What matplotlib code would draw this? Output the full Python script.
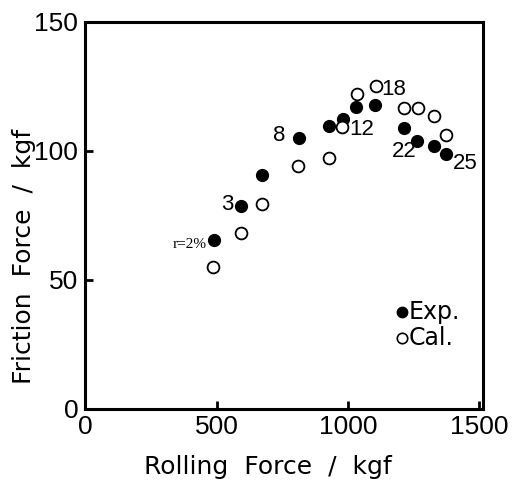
import matplotlib
matplotlib.use("Agg")
import matplotlib.pyplot as plt

# measured (Exp.) and calculated (Cal.) friction force vs rolling force
exp_x = [489, 591, 671, 812, 927, 979, 1030, 1104, 1214, 1263, 1328, 1371]
exp_y = [65.5, 78.7, 90.6, 105.0, 109.7, 112.3, 117.0, 117.8, 108.8, 104.0, 102.0, 98.7]
cal_x = [487, 592, 671, 810, 928, 978, 1035, 1105, 1213, 1265, 1328, 1371]
cal_y = [55.0, 68.3, 79.5, 94.3, 97.2, 109.3, 122.0, 125.0, 116.5, 116.5, 113.6, 106.3]

# reduction labels: (text, which series, index, offset in points, ha)
reduction_labels = [
    ("r=2%", "exp", 0, (-5, -3.5), "right"),
    ("3", "exp", 1, (-5, 1), "right"),
    ("8", "exp", 3, (-14, 1.5), "center"),
    ("12", "cal", 5, (5, -2), "left"),
    ("18", "cal", 7, (4, -2.5), "left"),
    ("22", "exp", 8, (0, -17), "center"),
    ("25", "exp", 11, (14, -6.5), "center"),
]

NUMFONT = "Liberation Sans"

fig = plt.figure(figsize=(5.17, 4.82), dpi=100)
ax = fig.add_axes([0.165, 0.1515, 0.769, 0.803])

ax.plot(exp_x, exp_y, "o", ms=8.5, color="black", mec="black")
ax.plot(cal_x, cal_y, "o", ms=8.5, mfc="white", mec="black", mew=1.3)

for text, series, i, off, ha in reduction_labels:
    x, y = (exp_x[i], exp_y[i]) if series == "exp" else (cal_x[i], cal_y[i])
    if text.startswith("r"):
        ax.annotate(text, (x, y), xytext=off, textcoords="offset points",
                    ha=ha, va="center", fontsize=11, family="Liberation Serif")
    else:
        ax.annotate(text, (x, y), xytext=off, textcoords="offset points",
                    ha=ha, va="center", fontsize=16, family=NUMFONT)

# hand-placed legend
ax.plot([0.797], [0.251], "o", ms=7.5, color="black", transform=ax.transAxes)
ax.plot([0.797], [0.184], "o", ms=7.5, mfc="white", mec="black", mew=1.2,
        transform=ax.transAxes)
ax.text(0.812, 0.251, "Exp.", transform=ax.transAxes, va="center", fontsize=17)
ax.text(0.812, 0.184, "Cal.", transform=ax.transAxes, va="center", fontsize=17)

ax.set_xlim(0, 1513)
ax.set_ylim(0, 150)
ax.set_xticks([0, 500, 1000, 1500])
ax.set_yticks([0, 50, 100, 150])
ax.tick_params(direction="in", length=6, width=2, labelsize=19)
ax.tick_params(axis="y", pad=5)
ax.tick_params(axis="x", pad=4)
for lab in ax.get_xticklabels() + ax.get_yticklabels():
    lab.set_family(NUMFONT)
for s in ax.spines.values():
    s.set_linewidth(2.2)

ax.set_xlabel("Rolling  Force  /  kgf", fontsize=18)
ax.set_ylabel("Friction  Force  /  kgf", fontsize=18)
ax.xaxis.set_label_coords(0.458, -0.12)
ax.yaxis.set_label_coords(-0.125, 0.393)

fig.savefig("out.png", dpi=100)
